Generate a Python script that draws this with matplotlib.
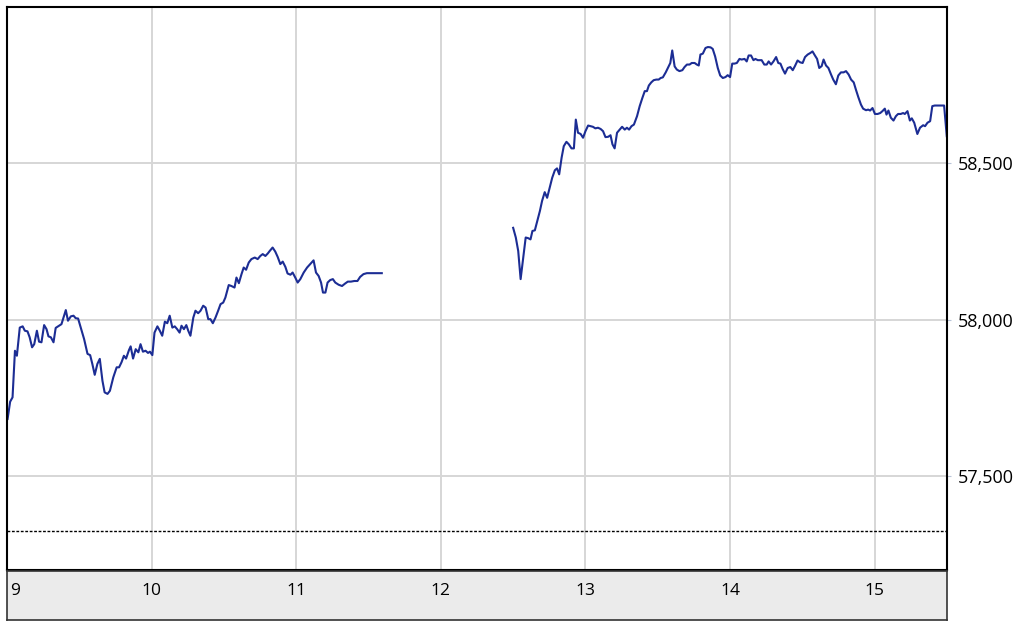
import numpy as np
import matplotlib
matplotlib.use('Agg')
import matplotlib.pyplot as plt

plt.rcParams['font.family'] = ['Open Sans', 'DejaVu Sans']

# minutes after 9:00 and index level, morning session
am_min = [0.25, 1.3, 2.3, 3.3, 4.1, 5.3, 6.5, 7.4, 8.5, 9.4, 10.4, 11.3, 12.4, 13.3, 14.3,
          15.4, 16.4, 17.2, 18.2, 19.3, 20.2, 21.2, 22.6, 24.4, 25.3, 26.5, 27.6, 28.5, 29.5,
          30.6, 32.0, 33.4, 34.5, 35.4, 36.4, 37.5, 38.5, 39.6, 40.5, 41.7, 42.7, 44.1, 45.5,
          46.5, 47.5, 48.5, 49.4, 50.6, 51.3, 52.3, 53.4, 54.5, 55.4, 56.4, 57.5, 58.5, 59.3,
          60.3, 61.2, 62.4, 63.4, 64.4, 65.5, 66.5, 67.5, 68.6, 69.6, 70.6, 71.6, 72.4, 73.4,
          74.4, 75.2, 76.1, 77.3, 78.2, 79.3, 80.3, 81.4, 82.4, 83.5, 84.4, 85.4, 86.5, 87.6,
          88.6, 89.7, 90.6, 92.0, 93.1, 94.4, 95.2, 96.2, 97.3, 98.2, 99.2, 100.3, 101.4, 102.8,
          104.0, 105.1, 106.1, 107.2, 108.2, 109.0, 110.2, 111.3, 112.3, 113.4, 114.4, 115.5,
          116.4, 117.6, 118.5, 119.6, 120.6, 121.7, 123.1, 124.5, 125.8, 127.2, 128.2, 129.3,
          130.3, 131.1, 132.1, 133.0, 134.1, 135.2, 136.2, 137.6, 139.0, 140.3, 141.4, 142.7,
          144.1, 145.4, 146.5, 147.9, 149.3, 150.7, 155.5]
am_val = [57683, 57738, 57752, 57901, 57885, 57975, 57979, 57965, 57963, 57944, 57912, 57922,
          57965, 57930, 57928, 57983, 57970, 57947, 57944, 57928, 57974, 57979, 57986, 58031,
          57997, 58011, 58013, 58005, 58004, 57975, 57938, 57891, 57887, 57859, 57824, 57859,
          57875, 57805, 57768, 57763, 57773, 57816, 57848, 57848, 57864, 57885, 57876, 57903,
          57915, 57876, 57906, 57896, 57922, 57898, 57901, 57894, 57898, 57887, 57959, 57979,
          57965, 57949, 57994, 57989, 58013, 57975, 57979, 57970, 57959, 57981, 57970, 57983,
          57965, 57949, 58007, 58029, 58021, 58029, 58045, 58039, 58002, 58002, 57989, 58007,
          58029, 58050, 58055, 58071, 58111, 58108, 58103, 58135, 58117, 58146, 58167, 58160,
          58183, 58194, 58199, 58194, 58204, 58210, 58204, 58212, 58220, 58231, 58218, 58201,
          58178, 58186, 58169, 58148, 58144, 58151, 58135, 58119, 58130, 58151, 58167, 58178,
          58190, 58151, 58140, 58119, 58087, 58087, 58119, 58127, 58130, 58119, 58112, 58108,
          58116, 58122, 58122, 58124, 58124, 58137, 58146, 58149, 58149, 58149]

# afternoon session
pm_min = [210.0, 211.1, 212.1, 213.1, 214.2, 215.2, 216.2, 217.2, 218.0, 219.0, 220.0, 221.1,
          222.0, 223.1, 224.1, 225.2, 226.2, 227.3, 228.2, 229.1, 230.1, 231.0, 232.1, 233.1,
          234.2, 235.2, 236.0, 236.9, 238.0, 239.0, 240.0, 241.1, 242.2, 243.1, 244.1, 245.2,
          246.3, 247.3, 248.3, 249.4, 250.4, 251.2, 252.1, 253.1, 254.2, 255.2, 256.3, 257.2,
          258.1, 259.1, 260.1, 261.4, 262.5, 263.6, 264.6, 265.5, 266.3, 267.3, 268.3, 269.4,
          270.4, 271.2, 272.1, 273.3, 274.2, 275.2, 276.0, 277.0, 277.9, 279.0, 280.2, 281.1,
          282.1, 283.2, 284.1, 285.3, 286.2, 287.0, 287.7, 288.7, 289.8, 290.8, 291.9, 292.8,
          293.8, 294.9, 295.9, 297.0, 298.1, 299.0, 300.0, 300.9, 301.8, 302.8, 303.9, 304.8,
          306.0, 306.9, 307.7, 308.7, 309.7, 310.5, 311.5, 312.2, 313.1, 314.2, 315.2, 316.0,
          317.0, 318.0, 319.1, 320.0, 320.9, 321.8, 322.8, 323.9, 325.0, 326.0, 326.9, 328.0,
          329.1, 330.1, 331.1, 332.2, 333.3, 334.2, 335.2, 336.1, 337.0, 338.0, 338.8, 339.8,
          340.8, 341.9, 342.8, 343.9, 344.9, 346.0, 347.1, 348.1, 349.2, 350.2, 351.3, 352.2,
          353.2, 354.3, 355.2, 356.4, 357.3, 358.1, 359.1, 360.1, 361.2, 362.3, 363.2, 364.2,
          364.9, 365.7, 366.7, 367.8, 368.8, 369.7, 370.8, 371.8, 372.5, 373.6, 374.6, 375.4,
          376.4, 377.7, 378.8, 380.1, 380.9, 381.9, 383.0, 383.9, 384.9, 388.8, 389.9]
pm_val = [58294, 58263, 58220, 58130, 58199, 58263, 58261, 58257, 58284, 58286, 58316, 58348,
          58380, 58408, 58390, 58424, 58454, 58478, 58484, 58465, 58518, 58555, 58569, 58561,
          58548, 58548, 58640, 58598, 58594, 58582, 58603, 58621, 58619, 58617, 58612, 58614,
          58610, 58603, 58584, 58585, 58590, 58561, 58548, 58598, 58608, 58617, 58608, 58614,
          58608, 58619, 58624, 58651, 58683, 58709, 58731, 58731, 58749, 58759, 58766, 58768,
          58768, 58773, 58775, 58791, 58805, 58821, 58861, 58810, 58800, 58795, 58798, 58808,
          58816, 58816, 58821, 58821, 58816, 58813, 58848, 58851, 58869, 58872, 58871, 58866,
          58842, 58805, 58781, 58773, 58776, 58782, 58776, 58819, 58819, 58821, 58834, 58832,
          58834, 58826, 58845, 58845, 58830, 58834, 58830, 58830, 58830, 58816, 58816, 58826,
          58816, 58826, 58840, 58821, 58819, 58802, 58787, 58805, 58808, 58798, 58811, 58829,
          58823, 58821, 58840, 58848, 58853, 58858, 58845, 58834, 58805, 58811, 58832, 58813,
          58805, 58784, 58768, 58753, 58781, 58791, 58791, 58795, 58784, 58768, 58759, 58736,
          58712, 58688, 58675, 58670, 58672, 58669, 58677, 58658, 58658, 58661, 58667, 58675,
          58656, 58669, 58646, 58637, 58651, 58658, 58658, 58661, 58658, 58667, 58637, 58644,
          58630, 58594, 58614, 58622, 58619, 58630, 58635, 58683, 58685, 58685, 58587]

prev_close = 57325
hours = [9, 10, 11, 12, 13, 14, 15]
y_ticks = [57500, 58000, 58500]

W, H = 1024, 627
fig = plt.figure(figsize=(W / 100, H / 100), dpi=100)
ax = fig.add_axes([7 / W, 1 - 570 / H, 940 / W, 563 / H])

am_x = 9 + np.array(am_min) / 60.0
pm_x = 9 + np.array(pm_min) / 60.0
line_color = '#1c2d94'
ax.plot(am_x, am_val, color=line_color, lw=1.5)
ax.plot(pm_x, pm_val, color=line_color, lw=1.5)
ax.axhline(prev_close, color='black', lw=1.0, ls=(0, (2, 1.2)))

ax.set_xlim(9, 15.5)
ax.set_ylim(57200, 59000)
ax.set_xticks(hours[1:])
ax.set_yticks(y_ticks)
ax.set_yticklabels(['{:,}'.format(v) for v in y_ticks])
ax.grid(True, color='#d6d6d6', lw=1.4)
ax.set_axisbelow(True)
ax.yaxis.tick_right()
ax.tick_params(axis='y', length=3, color='#b8c4d8', labelsize=13, pad=5)
ax.tick_params(axis='x', length=0, labelbottom=False)
for s in ax.spines.values():
    s.set_color('black')
    s.set_linewidth(1.5)

# gray time band below the chart
band = fig.add_axes([7 / W, 1 - 620 / H, 940 / W, 49 / H], facecolor='#ebebeb')
band.set_xlim(9, 15.5)
band.set_ylim(0, 1)
band.set_xticks([])
band.set_yticks([])
for s in band.spines.values():
    s.set_color('#333333')
    s.set_linewidth(1.2)
for h in hours:
    if h == 9:
        band.text(h + 0.02, 0.6, str(h), ha='left', va='center', fontsize=12.5)
    else:
        band.text(h, 0.6, str(h), ha='center', va='center', fontsize=12.5)

fig.savefig('out.png', dpi=100)
